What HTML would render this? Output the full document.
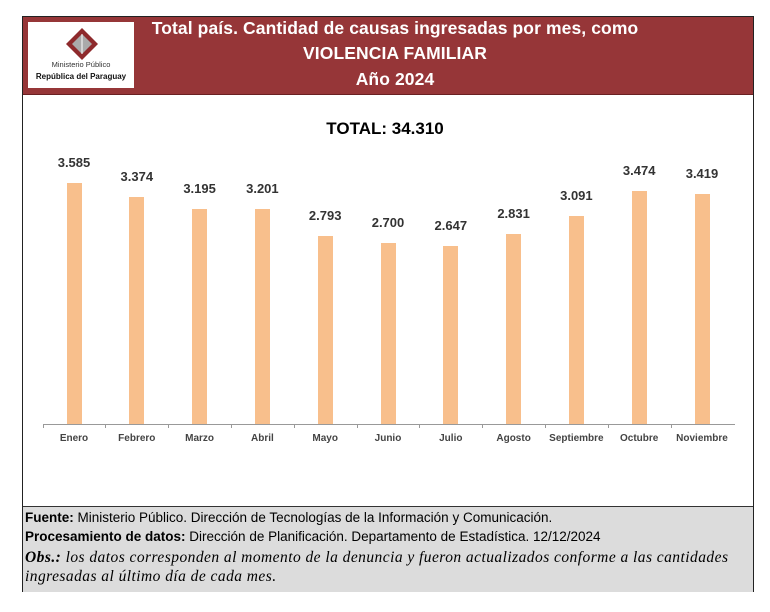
<!DOCTYPE html>
<html><head><meta charset="utf-8"><style>
body{margin:0;width:770px;height:612px;background:#fff;position:relative;overflow:hidden;font-family:"Liberation Sans",sans-serif}
.frame{position:absolute;left:22px;top:16px;width:732px;height:576px;border:1.5px solid #222;box-sizing:border-box}
.hdr{position:absolute;left:23px;top:17px;width:730px;height:77px;background:#963638;border-bottom:1px solid #6a2022}
.logo{position:absolute;left:28px;top:22px;width:106px;height:66px;background:#fff}
.ht{position:absolute;left:80px;width:630px;text-align:center;color:#fff;font-weight:bold;font-size:17.5px;letter-spacing:0.1px}
.foot{position:absolute;left:23px;top:506px;width:730px;height:85px;background:#dcdcdc;border-top:1.5px solid #333;font-size:13.5px;color:#000}
.bar{position:absolute;width:15px;background:#f8bf8c}
.v{position:absolute;width:60px;text-align:center;font-size:13px;font-weight:bold;color:#333}
.m{position:absolute;width:64px;text-align:center;font-size:10px;color:#444;font-weight:bold;top:433px}
.serif{font-family:"Liberation Serif",serif;font-style:italic;font-size:15.5px;letter-spacing:0.45px}
</style></head><body>
<div class="frame"></div>
<div class="hdr"></div>
<div class="logo">
<svg width="106" height="66" style="position:absolute;left:0;top:0">
<polygon points="54,6 70,22 54,38 38,22" fill="#8e2a2c"/>
<polygon points="54,12 64,22 54,32 44,22" fill="#aaa"/>
<line x1="54" y1="12" x2="54" y2="32" stroke="#fff" stroke-width="1"/>
</svg>
<div style="position:absolute;top:38px;width:106px;text-align:center;font-size:7.5px;color:#333">Ministerio Público</div>
<div style="position:absolute;top:50px;width:106px;text-align:center;font-size:8px;font-weight:bold;color:#111">República del Paraguay</div>
</div>
<div class="ht" style="top:18px">Total país. Cantidad de causas ingresadas por mes, como</div>
<div class="ht" style="top:43px">VIOLENCIA FAMILIAR</div>
<div class="ht" style="top:69px">Año 2024</div>
<div style="position:absolute;left:0;width:770px;top:119px;text-align:center;font-weight:bold;font-size:17px;color:#000">TOTAL: 34.310</div>
<div style="position:absolute;left:43px;top:424px;width:692px;height:1px;background:#999"></div>
<div id="c"></div>
<div class="foot">
<div style="position:absolute;left:2px;top:3px"><b>Fuente:</b> Ministerio Público. Dirección de Tecnologías de la Información y Comunicación.</div>
<div style="position:absolute;left:2px;top:22px"><b>Procesamiento de datos:</b> Dirección de Planificación. Departamento de Estadística. 12/12/2024</div>
<div class="serif" style="position:absolute;left:2px;top:41px;line-height:19px;width:728px;white-space:nowrap"><b>Obs.:</b> los datos corresponden al momento de la denuncia y fueron actualizados conforme a las cantidades<br>ingresadas al último día de cada mes.</div>
</div>
<script>
var d=[["Enero",3585,"3.585"],["Febrero",3374,"3.374"],["Marzo",3195,"3.195"],["Abril",3201,"3.201"],["Mayo",2793,"2.793"],["Junio",2700,"2.700"],["Julio",2647,"2.647"],["Agosto",2831,"2.831"],["Septiembre",3091,"3.091"],["Octubre",3474,"3.474"],["Noviembre",3419,"3.419"]];
var h="";d.forEach(function(e,i){var cx=74+i*62.8,hh=e[1]*0.0672,t=424-hh;
h+='<div class="bar" style="left:'+(cx-7.5)+'px;top:'+t+'px;height:'+hh+'px"></div>';
h+='<div class="v" style="left:'+(cx-30)+'px;top:'+(t-28)+'px">'+e[2]+'</div>';
h+='<div class="m" style="left:'+(cx-32)+'px">'+e[0]+'</div>';
h+='<div style="position:absolute;left:'+(cx-31.4)+'px;top:424px;width:1px;height:4px;background:#999"></div>';});
document.getElementById("c").innerHTML=h;
</script>
</body></html>
